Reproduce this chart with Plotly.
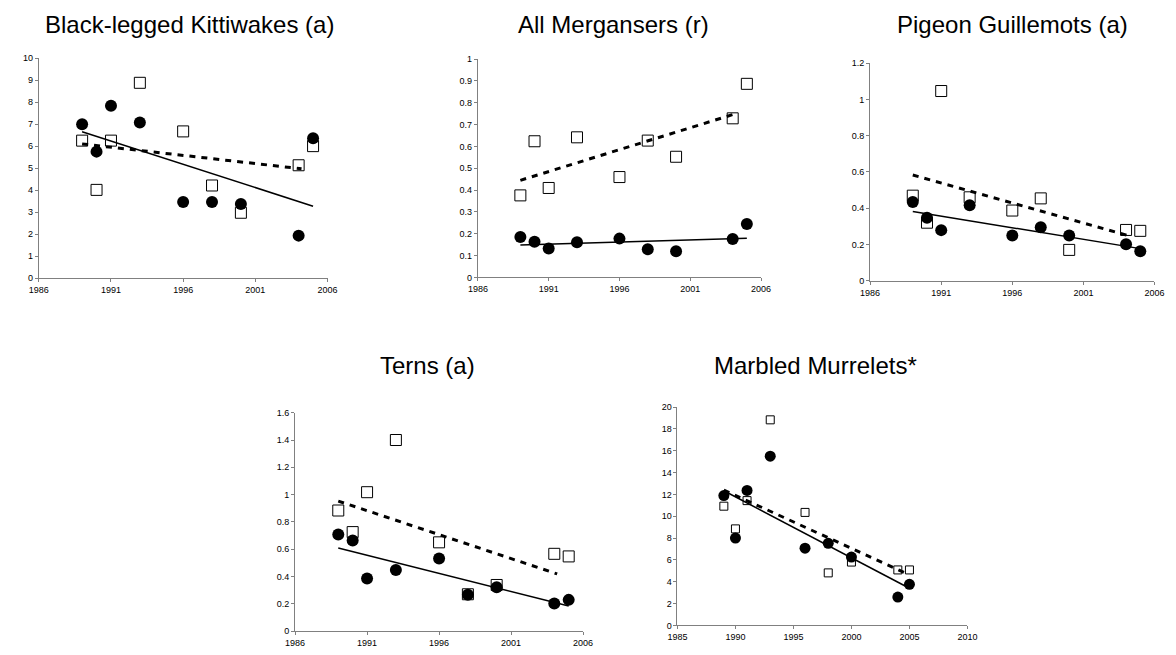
import plotly.graph_objects as go

W, H = 1176, 655

years = [1989, 1990, 1991, 1993, 1996, 1998, 2000, 2004, 2005]

titles = ["Black-legged Kittiwakes (a)", "All Mergansers (r)", "Pigeon Guillemots (a)",
          "Terns (a)", "Marbled Murrelets*"]

# filled circles series
kitti_circle = [7.0, 5.75, 7.84, 7.07, 3.46, 3.46, 3.37, 1.93, 6.36]
merg_circle = [0.185, 0.164, 0.133, 0.161, 0.178, 0.129, 0.120, 0.176, 0.245]
pigu_circle = [0.434, 0.347, 0.279, 0.416, 0.250, 0.295, 0.250, 0.201, 0.163]
tern_circle = [0.709, 0.665, 0.387, 0.449, 0.533, 0.267, 0.322, 0.204, 0.230]
mamu_circle = [11.89, 8.0, 12.36, 15.5, 7.07, 7.52, 6.26, 2.59, 3.76]

# open squares series
kitti_square = [6.25, 4.01, 6.25, 8.88, 6.67, 4.21, 2.97, 5.13, 6.0]
merg_square = [0.376, 0.624, 0.41, 0.642, 0.46, 0.627, 0.553, 0.729, 0.887]
pigu_square = [0.469, 0.32, 1.046, 0.46, 0.387, 0.454, 0.17, 0.28, 0.275]
tern_square = [0.884, 0.726, 1.018, 1.40, 0.651, 0.271, 0.339, 0.567, 0.548]
mamu_square = [10.92, 8.84, 11.43, 18.83, 10.35, 4.81, 5.8, 5.08, 5.08]

# trend lines: [start, end] years and values
solid_x = [[1989, 2005], [1989, 2005], [1989, 2005], [1989, 2005], [1989, 2005]]
solid_y = [[6.65, 3.27], [0.149, 0.180], [0.382, 0.177], [0.61, 0.185], [12.33, 3.4]]
dash_x = [[1989, 2004.2], [1989, 2004.2], [1989, 2004.1], [1989, 2004.2], [1989, 2004.6]]
dash_y = [[6.1, 4.97], [0.445, 0.75], [0.583, 0.25], [0.953, 0.42], [12.4, 4.81]]

circles = [kitti_circle, merg_circle, pigu_circle, tern_circle, mamu_circle]
squares = [kitti_square, merg_square, pigu_square, tern_square, mamu_square]

x_ranges = [[1986, 2006], [1986, 2006], [1986, 2006], [1986, 2006], [1985, 2010]]
x_tick0 = [1986, 1986, 1986, 1986, 1985]
y_ranges = [[0, 10], [0, 1], [0, 1.2], [0, 1.6], [0, 20]]
y_dticks = [1, 0.1, 0.2, 0.2, 2]

# panel boxes in pixels: left, right, top, bottom
boxes = [(29.3, 323, 54, 277.3), (476, 764, 55, 276.7), (875, 1164.3, 59, 280),
         (290, 583, 414, 636), (679, 974, 408.3, 630)]
title_pos = [(183, 20), (613.5, 20), (1019.6, 20), (425, 366), (819, 366)]
sq_size = [11, 11, 11, 11, 8]
ci_size = [12, 12, 12, 12, 11]

fig = go.Figure()
layout = dict(width=W, height=H, margin=dict(l=0, r=0, t=0, b=0),
              paper_bgcolor="white", plot_bgcolor="white", showlegend=False,
              hovermode=False,
              font=dict(family="Liberation Sans, Arial, sans-serif", color="black"))
annotations = []

for i in range(5):
    sfx = "" if i == 0 else str(i + 1)
    xa, ya = "x" + sfx, "y" + sfx
    l, r, t, b = boxes[i]
    axis_common = dict(showgrid=False, zeroline=False, showline=True, linecolor="#808080",
                       linewidth=1, ticks="outside", ticklen=3, tickcolor="#808080",
                       tickfont=dict(size=9, color="black"), fixedrange=True)
    layout["xaxis" + sfx] = dict(axis_common, domain=[l / W, r / W], range=x_ranges[i],
                                  tick0=x_tick0[i], dtick=5, anchor=ya)
    layout["yaxis" + sfx] = dict(axis_common, domain=[1 - b / H, 1 - t / H], range=y_ranges[i],
                                  dtick=y_dticks[i], tick0=0, anchor=xa)
    fig.add_trace(go.Scatter(x=years, y=squares[i], mode="markers", xaxis=xa, yaxis=ya,
                             marker=dict(symbol="square", size=sq_size[i], color="white",
                                         line=dict(color="black", width=1)), cliponaxis=False))
    fig.add_trace(go.Scatter(x=years, y=circles[i], mode="markers", xaxis=xa, yaxis=ya,
                             marker=dict(symbol="circle", size=ci_size[i], color="black",
                                         line=dict(width=0)), cliponaxis=False))
    fig.add_trace(go.Scatter(x=dash_x[i], y=dash_y[i], mode="lines", xaxis=xa, yaxis=ya,
                             line=dict(color="black", width=3, dash="6px,6px")))
    fig.add_trace(go.Scatter(x=solid_x[i], y=solid_y[i], mode="lines", xaxis=xa, yaxis=ya,
                             line=dict(color="black", width=1.5)))
    cx, cy = title_pos[i]
    annotations.append(dict(text=titles[i], x=cx / W, y=1 - cy / H, xref="paper", yref="paper",
                            xanchor="center", yanchor="middle", showarrow=False,
                            font=dict(size=24, color="black")))

layout["annotations"] = annotations
fig.update_layout(**layout)
fig.write_html("out.html", config={"displayModeBar": False},
               post_script="document.body.style.margin='0';document.body.style.overflow='hidden';")
